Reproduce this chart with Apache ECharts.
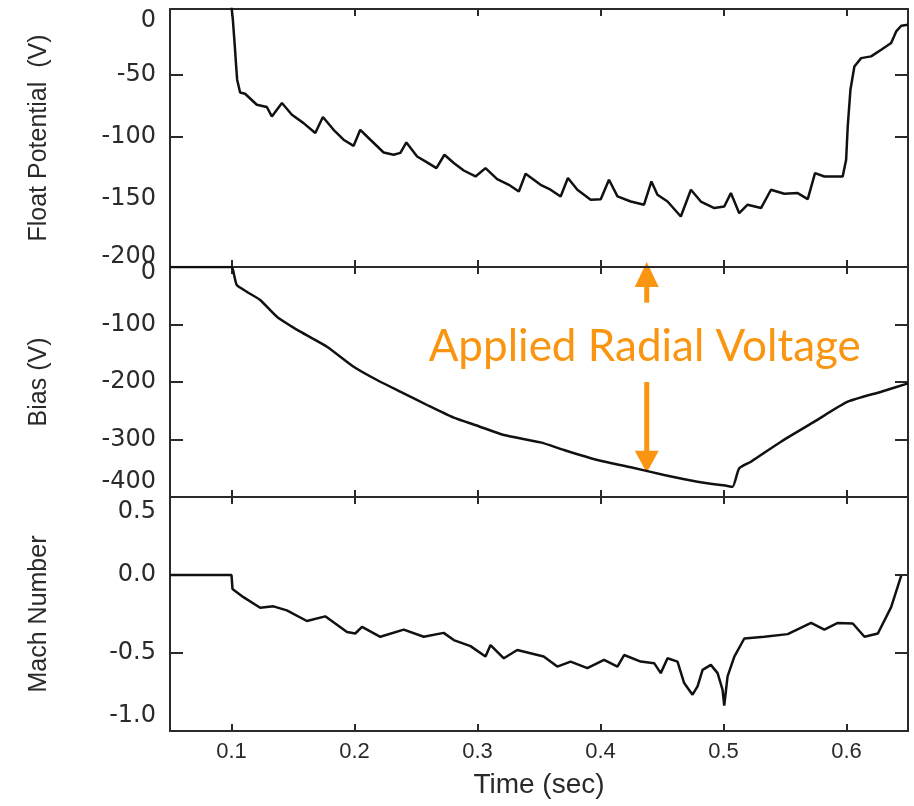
<!DOCTYPE html>
<html>
<head>
<meta charset="utf-8">
<script src="https://cdn.jsdelivr.net/npm/echarts@6/dist/echarts.min.js"></script>
<style>html,body{margin:0;padding:0;background:#fff}#c{width:914px;height:806px}</style>
</head>
<body>
<div id="c"></div>
<script>
// ---- data ----
const xTicks = [0.1, 0.2, 0.3, 0.4, 0.5, 0.6];
const floatLabels = [0, -50, -100, -150, -200];
const floatTickMarks = [-50, -100];
const biasLabels = [0, -100, -200, -300, -400];
const biasTickMarks = [-100, -200, -300];
const machLabels = [0.5, 0.0, -0.5, -1.0];
const machTickMarks = [0.0, -0.5];

const floatTime = [0.0995,0.1002,0.1011,0.1019,0.1027,0.1038,0.1046,0.107,0.111,0.1206,0.1287,0.1328,0.141,0.1491,0.1586,0.1681,0.1743,0.183,0.1911,0.1993,0.2047,0.2129,0.2237,0.2318,0.2373,0.2422,0.2509,0.259,0.2666,0.2731,0.2807,0.2888,0.2984,0.3065,0.316,0.3255,0.3336,0.3391,0.3513,0.3594,0.3676,0.3735,0.3812,0.392,0.4002,0.4069,0.4138,0.4246,0.4354,0.4414,0.4463,0.4545,0.4653,0.4735,0.4816,0.4925,0.5006,0.506,0.5128,0.5196,0.5305,0.5386,0.5494,0.5603,0.5685,0.5744,0.582,0.5969,0.5997,0.601,0.6032,0.6064,0.6119,0.62,0.6282,0.6363,0.6404,0.6445,0.65];
const floatPotential = [8,3,-5.6,-16.4,-27.2,-43.3,-54,-64.3,-65.3,-74.2,-76,-83.6,-72.8,-82.3,-89,-97,-84.1,-94.4,-102.4,-107.3,-94.4,-102.4,-112.7,-114.5,-113,-104.6,-115.9,-120.7,-125.3,-114.5,-121.2,-127.2,-132,-125.3,-134.2,-138.7,-144.1,-129.8,-138.7,-142.7,-148.1,-133.3,-142.7,-150.8,-150.3,-134.7,-148.1,-152.2,-154.8,-136,-146.8,-152.2,-164.3,-142.7,-152.2,-157.5,-156.2,-145.4,-161.6,-154.8,-157.5,-142.7,-146,-145.4,-150.3,-129.3,-132,-132,-118.5,-91.7,-62.1,-43.3,-36.6,-35.2,-29.8,-24.4,-15.1,-10.5,-9.7];

const biasTime = [0.05,0.1,0.1021,0.1043,0.1124,0.1233,0.1369,0.1559,0.1776,0.1993,0.2183,0.24,0.259,0.2807,0.2998,0.3214,0.3513,0.3703,0.3975,0.4246,0.4517,0.4789,0.5033,0.5074,0.5128,0.5223,0.5467,0.5739,0.601,0.6282,0.65];
const bias = [0,0,-13.9,-31.3,-43,-57.4,-86.4,-112.5,-138.6,-173.4,-196.5,-219.7,-240,-262,-276,-292.2,-305,-318.3,-335.7,-348.3,-361.7,-373.4,-380.9,-382.1,-350.1,-338.6,-303.8,-269,-234.3,-216.9,-202.3];

const machTime = [0.05,0.1,0.1008,0.1097,0.1233,0.1341,0.145,0.1613,0.1762,0.1939,0.2006,0.2061,0.221,0.24,0.2563,0.2725,0.2807,0.2943,0.3065,0.3106,0.3214,0.3323,0.3538,0.3649,0.3757,0.3893,0.4029,0.4138,0.4192,0.4327,0.4436,0.449,0.4545,0.4626,0.468,0.4748,0.4789,0.483,0.4897,0.4952,0.4992,0.5006,0.5033,0.5088,0.5169,0.5332,0.5522,0.5712,0.582,0.5929,0.6051,0.6146,0.6255,0.6363,0.6445];
const mach = [0,0,-0.089,-0.142,-0.21,-0.201,-0.227,-0.295,-0.265,-0.365,-0.375,-0.333,-0.396,-0.35,-0.396,-0.371,-0.417,-0.456,-0.523,-0.449,-0.534,-0.481,-0.523,-0.587,-0.555,-0.597,-0.544,-0.587,-0.513,-0.555,-0.565,-0.629,-0.534,-0.555,-0.693,-0.767,-0.714,-0.608,-0.576,-0.629,-0.735,-0.837,-0.65,-0.523,-0.407,-0.396,-0.379,-0.307,-0.35,-0.307,-0.311,-0.396,-0.375,-0.206,-0.004];

const annotationText = 'Applied Radial Voltage';
const annotationTime = 0.4376;

// ---- chart ----
const zip = (a, b) => a.map((v, i) => [v, b[i]]);
const chart = echarts.init(document.getElementById('c'), null, {renderer: 'canvas'});
const lineCol = '#2a2a2a';
const axisLine = {show: true, onZero: false, lineStyle: {color: lineCol, width: 2}};
const tickFont = {fontFamily: 'DejaVu Sans', fontSize: 24, color: '#2a2a2a'};

function xAx(grid, pos, showLabel) {
  return {
    type: 'value', gridIndex: grid, position: pos, min: 0.05, max: 0.65,
    axisLine: axisLine, splitLine: {show: false},
    axisTick: {show: true, inside: true, length: 7, customValues: xTicks, lineStyle: {color: lineCol, width: 2}},
    axisLabel: showLabel ? {show: true, customValues: xTicks, margin: 10, fontFamily: 'Liberation Sans', fontSize: 22, color: '#2a2a2a', formatter: v => v.toFixed(1)} : {show: false},
    name: showLabel ? 'Time (sec)' : '', nameLocation: 'middle', nameGap: 40,
    nameTextStyle: {fontFamily: 'Liberation Sans', fontSize: 28, color: '#2a2a2a'}
  };
}
function yAx(grid, pos, min, max, labels, ticks, fmt, rich, name) {
  const left = pos === 'left';
  return {
    type: 'value', gridIndex: grid, position: pos, min: min, max: max,
    axisLine: axisLine, splitLine: {show: false},
    axisTick: {show: true, inside: true, length: 13, customValues: ticks, lineStyle: {color: lineCol, width: 2}},
    axisLabel: left ? Object.assign({show: true, customValues: labels, margin: 14, formatter: fmt, rich: rich}, tickFont) : {show: false},
    name: left ? name : '', nameLocation: 'middle', nameGap: 118, nameRotate: 90,
    nameTextStyle: {fontFamily: 'Liberation Sans', fontSize: 25, color: '#2a2a2a'}
  };
}
const richBase = (shiftDown, shiftUp) => ({
  n: Object.assign({}, tickFont),
  d: Object.assign({padding: [shiftDown * 2, 0, 0, 0]}, tickFont),
  u: Object.assign({padding: [0, 0, shiftUp * 2, 0]}, tickFont)
});

const option = {
  animation: false,
  backgroundColor: '#fff',
  grid: [
    {left: 170, right: 6, top: 9, height: 258, outerBoundsMode: 'none'},
    {left: 170, right: 6, top: 267, height: 230, outerBoundsMode: 'none'},
    {left: 170, right: 6, top: 497, height: 234, outerBoundsMode: 'none'}
  ],
  xAxis: [
    xAx(0, 'bottom', false), xAx(1, 'bottom', false), xAx(2, 'bottom', true),
    xAx(0, 'top', false), xAx(1, 'top', false), xAx(2, 'top', false)
  ],
  yAxis: [
    yAx(0, 'left', -205, 3, floatLabels, floatTickMarks,
      v => v === 0 ? '{d|0}' : v === -200 ? '{u|-200}' : '{n|' + v + '}', richBase(8, 4), 'Float Potential  (V)'),
    yAx(1, 'left', -400, 0, biasLabels, biasTickMarks,
      v => v === 0 ? '{d|0}' : v === -400 ? '{u|-400}' : '{n|' + v + '}', richBase(6, 15), 'Bias (V)'),
    yAx(2, 'left', -1, 0.5, machLabels, machTickMarks,
      v => v === 0.5 ? '{d|0.5}' : v === -1 ? '{u|-1.0}' : '{n|' + v.toFixed(1) + '}', richBase(15, 15), 'Mach Number'),
    yAx(0, 'right', -205, 3, floatLabels, floatTickMarks),
    yAx(1, 'right', -400, 0, biasLabels, biasTickMarks),
    yAx(2, 'right', -1, 0.5, machLabels, machTickMarks)
  ],
  series: [
    {type: 'line', xAxisIndex: 0, yAxisIndex: 0, data: zip(floatTime, floatPotential), showSymbol: false, clip: true, lineStyle: {color: '#111', width: 2.5}},
    {type: 'line', xAxisIndex: 1, yAxisIndex: 1, data: zip(biasTime, bias), showSymbol: false, clip: true, smooth: 0.2, lineStyle: {color: '#111', width: 2.5}},
    {type: 'line', xAxisIndex: 2, yAxisIndex: 2, data: zip(machTime, mach), showSymbol: false, clip: true, lineStyle: {color: '#111', width: 2.5}}
  ]
};
chart.setOption(option);

// ---- annotation anchored to the bias panel's data coordinates ----
const orange = '#FA9511';
const top0 = chart.convertToPixel({gridIndex: 1}, [annotationTime, 8.7]);     // up-arrow tip
const upEnd = chart.convertToPixel({gridIndex: 1}, [annotationTime, -62]);    // up-arrow tail
const txt = chart.convertToPixel({gridIndex: 1}, [annotationTime, -139]);     // text center
const dnStart = chart.convertToPixel({gridIndex: 1}, [annotationTime, -200]); // down-arrow tail
const dnTip = chart.convertToPixel({gridIndex: 1}, [annotationTime, -358]);   // down-arrow tip
const ax = top0[0];
chart.setOption({
  graphic: [
    {type: 'line', shape: {x1: ax, y1: top0[1] + 22, x2: ax, y2: upEnd[1]}, style: {stroke: orange, lineWidth: 5}},
    {type: 'polygon', shape: {points: [[ax, top0[1]], [ax - 12, top0[1] + 25], [ax + 12, top0[1] + 25]]}, style: {fill: orange}},
    {type: 'line', shape: {x1: ax, y1: dnStart[1], x2: ax, y2: dnTip[1] - 20}, style: {stroke: orange, lineWidth: 5}},
    {type: 'polygon', shape: {points: [[ax, dnTip[1]], [ax - 12, dnTip[1] - 22], [ax + 12, dnTip[1] - 22]]}, style: {fill: orange}},
    {type: 'text', x: txt[0] - 2, y: txt[1], style: {text: annotationText, fill: orange, font: '44px Lato', align: 'center', verticalAlign: 'middle'}}
  ]
});
</script>
</body>
</html>
